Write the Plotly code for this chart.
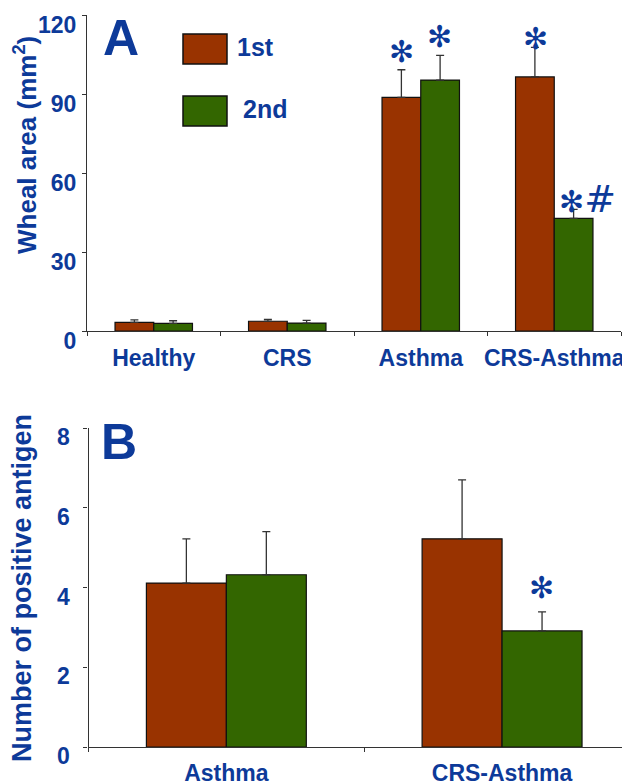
import plotly.graph_objects as go

# ---------------- data ----------------
cats_a = ["Healthy", "CRS", "Asthma", "CRS-Asthma"]
first_a = [3.3, 3.7, 88.7, 96.5]
first_a_err = [0.9, 0.7, 10.5, 11.2]
second_a = [2.9, 3.0, 95.3, 42.8]
second_a_err = [1.0, 1.0, 9.4, 3.4]
yticks_a = [0, 30, 60, 90, 120]

cats_b = ["Asthma", "CRS-Asthma"]
first_b = [4.11, 5.22]
first_b_err = [1.11, 1.48]
second_b = [4.32, 2.91]
second_b_err = [1.08, 0.48]
yticks_b = [0, 2, 4, 6, 8]

series_names = ["1st", "2nd"]
sig_a = [("Asthma", 0, "✻"), ("Asthma", 1, "✻"), ("CRS-Asthma", 0, "✻"), ("CRS-Asthma", 1, "✻#")]
sig_a_y = [106, 112, 111, 50]
sig_b = [("CRS-Asthma", 1, "✻")]
sig_b_y = [4.0]

# ---------------- style ----------------
RED = "#993300"
GREEN = "#336600"
BLUE = "#0d3a99"
FONT = "Liberation Sans"

# page body has an 8px margin: lay out in window pixels, shifted by OFF
OFF = 8
W, H = 630 - OFF, 784 - OFF


def px(x):
    return (x - OFF) / W


def py(y):
    return 1 - (y - OFF) / H


fig = go.Figure()


def add_bars(cats, vals, errs, color, xa, ya, name):
    fig.add_trace(go.Bar(
        x=cats, y=vals, name=name, xaxis=xa, yaxis=ya, showlegend=False,
        marker=dict(color=color, line=dict(color="#111111", width=1.2)),
        error_y=dict(type="data", array=errs, arrayminus=[0] * len(errs), symmetric=False,
                     color="#333333", thickness=1.3, width=4),
    ))


add_bars(cats_a, first_a, first_a_err, RED, "x", "y", series_names[0])
add_bars(cats_a, second_a, second_a_err, GREEN, "x", "y", series_names[1])
add_bars(cats_b, first_b, first_b_err, RED, "x2", "y2", series_names[0])
add_bars(cats_b, second_b, second_b_err, GREEN, "x2", "y2", series_names[1])

axis_common = dict(showgrid=False, zeroline=False, showline=True, linecolor="#333333", linewidth=1.2,
                   ticks="outside", ticklen=4, tickcolor="#333333", automargin=False, tickangle=0,
                   tickfont=dict(family=FONT, size=23, color=BLUE, weight="bold"))

fig.update_layout(
    template="none",
    width=W, height=H, margin=dict(l=0, r=0, t=0, b=0, autoexpand=False),
    paper_bgcolor="white", plot_bgcolor="white",
    barmode="group", bargap=0.42, bargroupgap=0,
    xaxis=dict(domain=[px(87), px(621)], anchor="y", type="category", range=[-0.5, 3.5],
               tickson="boundaries", ticklabelstandoff=6, **axis_common),
    yaxis=dict(domain=[py(331), py(15)], anchor="x", range=[0, 120], tickvals=yticks_a,
               ticklabelstandoff=1, ticklabelshift=10, **axis_common),
    xaxis2=dict(domain=[px(88.5), 1], anchor="y2", type="category", range=[-0.5, 1.464],
                tickson="boundaries", ticklabelstandoff=5, **axis_common),
    yaxis2=dict(domain=[py(747), py(428)], anchor="x2", range=[0, 8], tickvals=yticks_b,
                ticklabelstandoff=9, ticklabelshift=9, **axis_common),
)

ann = []


def paper_text(text, x, y, size, angle=0, xanchor="center", yanchor="middle", family=FONT):
    ann.append(dict(text=text, x=px(x), y=py(y), xref="paper", yref="paper", showarrow=False,
                    xanchor=xanchor, yanchor=yanchor, textangle=angle,
                    font=dict(family=family, size=size, color=BLUE)))


# panel letters
paper_text("<b>A</b>", 121, 8, 50, yanchor="top")
paper_text("<b>B</b>", 119, 442, 50)
# y titles
paper_text("<b>Wheal area (mm<sup>2</sup>)</b>", 25, 145, 26, angle=-90)
paper_text("<b>Number of positive antigen</b>", 22, 588, 27, angle=-90)
# significance markers
for (c, s, t), yv in zip(sig_a, sig_a_y):
    label = t.replace("#", "<span style='font-size:38px'>#</span>")
    ann.append(dict(text=label, x=c, y=yv, xref="x", yref="y", showarrow=False,
                    xanchor="center", yanchor="middle",
                    xshift=(-19 if s == 0 else 19) + (14 if len(t) > 1 else 0),
                    font=dict(family="DejaVu Sans", size=30, color=BLUE)))
for (c, s, t), yv in zip(sig_b, sig_b_y):
    ann.append(dict(text=t, x=c, y=yv, xref="x2", yref="y2", showarrow=False,
                    xanchor="center", yanchor="middle",
                    xshift=(-39 if s == 0 else 39),
                    font=dict(family="DejaVu Sans", size=30, color=BLUE)))
# legend
leg_y = [49, 111]
leg_cols = [RED, GREEN]
shapes = []
for name, col, yc, tx in zip(series_names, leg_cols, leg_y, [235, 241]):
    shapes.append(dict(type="rect", xref="paper", yref="paper", x0=px(183), x1=px(227),
                       y0=py(yc + 15), y1=py(yc - 15),
                       fillcolor=col, line=dict(color="#111111", width=1.5)))
    paper_text("<b>%s</b>" % name, tx, yc - 2, 25, xanchor="left")

fig.update_layout(annotations=ann, shapes=shapes)
fig.write_html("out.html")
